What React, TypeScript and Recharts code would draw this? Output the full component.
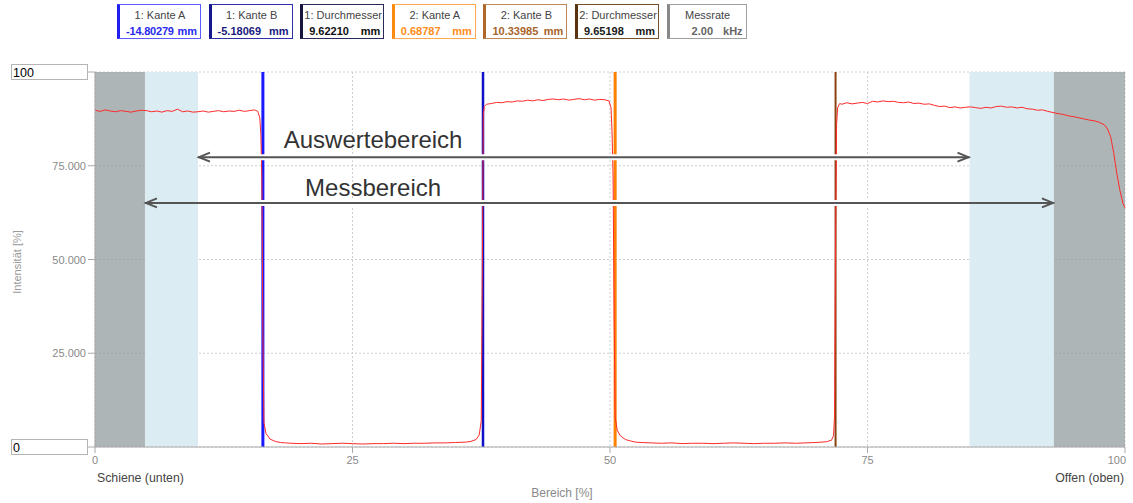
import React from 'react';
import {
  LineChart,
  Line,
  XAxis,
  YAxis,
  CartesianGrid,
  ReferenceArea,
  ReferenceLine,
  ReferenceDot,
} from 'recharts';

// Messpunkte (Bereich in %, Intensität in %)
const bereich = [
  0, 0.5, 1, 1.5, 2, 2.5, 3, 3.5, 4, 4.5, 5, 5.5, 6, 6.5, 7, 7.5, 8, 8.5, 9, 9.5, 10, 10.5, 11, 11.5, 12, 12.5, 13, 13.5, 14, 14.5, 15, 15.5,
  15.8, 16, 16.1, 16.2, 16.3, 16.4, 16.6, 17, 17.5, 18, 18.5,
  19, 20, 21, 22, 23, 24, 25, 26, 27, 28, 29, 30, 31, 32, 33, 34, 35, 36,
  36.5, 37, 37.3, 37.5, 37.6, 37.7, 37.8,
  38, 38.5, 39, 39.5, 40, 40.5, 41, 41.5, 42, 42.5, 43, 43.5, 44, 44.5, 45, 45.5, 46, 46.5, 47, 47.5, 48, 48.5, 49, 49.5, 49.9,
  50.1, 50.2, 50.3, 50.4, 50.5, 50.7, 51, 51.5, 52, 52.5, 53, 54,
  55, 56, 57, 58, 59, 60, 61, 62, 63, 64, 65, 66, 67, 68, 69, 70, 71,
  71.5, 71.7, 71.8, 71.9, 72, 72.1, 72.3,
  72.5, 73, 73.5, 74, 74.5, 75, 75.5, 76, 76.5, 77, 77.5, 78, 78.5, 79, 79.5, 80, 80.5, 81, 81.5, 82, 82.5, 83, 83.5, 84, 84.5,
  85, 85.5, 86, 86.5, 87, 87.5, 88, 88.5, 89, 89.5, 90, 90.5, 91, 91.5, 92, 92.5, 93, 93.5, 94, 94.5, 95, 95.5, 96, 96.5, 97, 97.5,
  98, 98.3, 98.6, 98.9, 99.2, 99.5, 99.8, 100,
];

const intensitaet = [
  89.8, 89.5, 89.9, 89.6, 89.4, 89.7, 89.5, 89.3, 89.6, 89.8, 89.7, 89.4, 89.6, 89.3, 89.7, 89.5, 90.1, 89.4, 89.6, 89.3, 89.4, 89.6, 89.3, 89.5, 89.7, 89.4, 89.6, 89.5, 89.8, 89.5, 89.7, 89.9,
  89.5, 87.8, 83.5, 72, 30, 6.5, 3.6, 2.1, 1.5, 1.2, 1.1,
  1.0, 0.9, 1.0, 0.8, 0.9, 1.0, 0.9, 0.8, 0.9, 0.9, 1.0, 0.9, 1.0, 1.0, 1.1, 1.1, 1.2, 1.3,
  1.5, 2.0, 3.2, 7.0, 45, 88.5, 90.8,
  91.4, 91.6, 91.9, 91.8, 92.1, 92.0, 92.3, 92.2, 92.5, 92.3, 92.6, 92.4, 92.7, 92.8, 92.6, 92.8, 92.5, 92.7, 92.9, 92.6, 92.8, 92.5, 92.7, 92.6, 92.3,
  90.5, 84, 72, 35, 8, 4.5, 3.0, 2.0, 1.6, 1.3, 1.2, 1.1,
  1.0, 1.1, 0.9, 1.0, 1.0, 0.9, 1.0, 1.1, 1.0, 0.9, 1.0, 1.0, 1.1, 1.0, 1.1, 1.2, 1.4,
  1.8, 3.0, 8.0, 55, 86, 90.5, 91.6,
  91.4, 91.8, 91.5, 91.7, 91.9, 91.6, 92.2, 92.0, 92.3, 92.1, 92.2, 91.9, 91.8, 92.0, 91.6, 91.7, 91.4, 91.5, 91.1, 90.8, 90.9, 90.5, 90.7, 90.4, 90.6,
  90.7, 90.5, 90.3, 90.6, 90.4, 90.8, 90.9, 90.6, 90.7, 90.4, 90.6, 90.2, 90.1, 89.8, 89.9, 89.5, 89.2, 88.9, 88.7, 88.3, 88.1, 87.8, 87.5, 87.2, 87.0, 86.6,
  85.9, 84.8, 82.8, 78.5, 73.0, 68.5, 65.0, 63.8,
];

const xTicks = [0, 25, 50, 75, 100];
const yTicks = [0, 25, 50, 75, 100];

// Kanten-Marker (Bereich %)
const kanten = [16.3, 37.67, 50.5, 71.9];
const kantenFarben = ['#1a1aff', '#1010c8', '#ff8000', '#8a4210'];
const kantenBreite = [3, 2.5, 3, 2];

// Bereiche
const messbereich = [4.85, 93.1];
const auswertebereich = [10, 84.9];
const auswerteY = 77.3;
const messY = 65.1;

// Anzeige-Felder oben
const feldTitel = ['1: Kante A', '1: Kante B', '1: Durchmesser', '2: Kante A', '2: Kante B', '2: Durchmesser', 'Messrate'];
const feldWerte = ['-14.80279', '-5.18069', '9.62210', '0.68787', '10.33985', '9.65198', '2.00'];
const feldEinheit = ['mm', 'mm', 'mm', 'mm', 'mm', 'mm', 'kHz'];
const feldRahmen = ['#5a5aff', '#3030a8', '#2a2a5a', '#ffa850', '#c08858', '#74502c', '#a0a0a0'];
const feldBalken = ['#2020ee', '#16168e', '#14143e', '#ff8a10', '#b0682a', '#5a3210', '#888888'];
const feldText = ['#2a2aee', '#1a1a80', '#111111', '#ff8c1a', '#a8642c', '#1a1a1a', '#666666'];

const data = bereich.map((b, i) => ({ bereich: b, intensitaet: intensitaet[i] }));

const FONT = '"Liberation Sans", Arial, sans-serif';

const YTick = (props: any) => {
  const { x, y, payload } = props;
  const v = payload.value;
  if (v === 100 || v === 0) {
    return (
      <g>
        <rect x={11.5} y={y - 7.5} width={76} height={15} fill="#fff" stroke="#b4b4b4" />
        <text x={13} y={y + 4.5} fontSize={12.5} fill="#000" fontFamily={FONT}>
          {v}
        </text>
      </g>
    );
  }
  return (
    <text x={x} y={y + 4} textAnchor="end" fontSize={11} fill="#8a8a8a" fontFamily={FONT}>
      {v.toFixed(3)}
    </text>
  );
};

const XTick = (props: any) => {
  const { x, y, payload } = props;
  const v = payload.value;
  return (
    <text
      x={v === 100 ? x + 1 : x}
      y={y + 9}
      textAnchor={v === 100 ? 'end' : 'middle'}
      fontSize={11}
      fill="#8a8a8a"
      fontFamily={FONT}
    >
      {v}
    </text>
  );
};

const Pfeil = (props: any) => {
  const { x1, y1, x2, y2 } = props;
  const c = '#555';
  return (
    <g>
      <line x1={x1} y1={y1} x2={x2} y2={y2} stroke={c} strokeWidth={2} />
      <polyline points={`${x1 + 12},${y1 - 4.5} ${x1 + 1},${y1} ${x1 + 12},${y1 + 4.5}`} fill="none" stroke={c} strokeWidth={2} />
      <polyline points={`${x2 - 12},${y2 - 4.5} ${x2 - 1},${y2} ${x2 - 12},${y2 + 4.5}`} fill="none" stroke={c} strokeWidth={2} />
    </g>
  );
};

export default function App() {
  return (
    <div style={{ position: 'absolute', left: 0, top: 0, width: 1133, height: 503, background: '#fff', fontFamily: FONT }}>
      {feldTitel.map((t, i) => (
        <div
          key={t}
          style={{
            position: 'absolute',
            left: 117 + i * 91.6,
            top: 4,
            width: i === 6 ? 80 : 84,
            height: 35,
            boxSizing: 'border-box',
            border: `1px solid ${feldRahmen[i]}`,
            borderLeft: `3px solid ${feldBalken[i]}`,
            background: '#fff',
          }}
        >
          <div style={{ position: 'absolute', left: 0, right: 0, top: 3, textAlign: 'center', fontSize: 11, color: '#444', lineHeight: '14px', whiteSpace: 'nowrap' }}>
            {t}
          </div>
          <div
            style={{
              position: 'absolute',
              left: i === 6 ? 22 : 6,
              top: 19,
              fontSize: 11,
              fontWeight: 'bold',
              color: feldText[i],
              lineHeight: '14px',
              whiteSpace: 'nowrap',
              letterSpacing: i === 0 ? -0.2 : 0,
            }}
          >
            {feldWerte[i]}
          </div>
          <div style={{ position: 'absolute', right: 3, top: 19, fontSize: 11, fontWeight: 'bold', color: feldText[i], lineHeight: '14px' }}>
            {feldEinheit[i]}
          </div>
        </div>
      ))}

      <div style={{ position: 'absolute', left: 0, top: 0 }}>
        <LineChart width={1133} height={503} data={data} margin={{ top: 72, right: 8, left: 11, bottom: 26 }} style={{ fontFamily: FONT }}>
          <CartesianGrid stroke="#cfcfcf" strokeDasharray="2 2" />
          <ReferenceArea x1={messbereich[0]} x2={auswertebereich[0]} y1={0} y2={100} fill="#dcecf3" fillOpacity={1} stroke="none" />
          <ReferenceArea x1={auswertebereich[1]} x2={messbereich[1]} y1={0} y2={100} fill="#dcecf3" fillOpacity={1} stroke="none" />
          {kanten.map((k, i) => (
            <ReferenceLine key={k} x={k} stroke={kantenFarben[i]} strokeWidth={kantenBreite[i]} />
          ))}
          <XAxis
            dataKey="bereich"
            type="number"
            domain={[0, 100]}
            ticks={xTicks}
            height={30}
            tick={<XTick />}
            tickSize={6}
            tickMargin={2}
            stroke="#aaa"
            interval={0}
          />
          <YAxis
            domain={[0, 100]}
            ticks={yTicks}
            width={84}
            tick={<YTick />}
            tickSize={7}
            tickMargin={2}
            stroke="#aaa"
            interval={0}
          />
          <Line type="linear" dataKey="intensitaet" stroke="#ff2a2a" strokeWidth={1} dot={false} isAnimationActive={false} />
          <ReferenceArea x1={0} x2={messbereich[0]} y1={0} y2={100} fill="#8b9599" fillOpacity={0.7} stroke="none" />
          <ReferenceArea x1={messbereich[1]} x2={100} y1={0} y2={100} fill="#8b9599" fillOpacity={0.7} stroke="none" />
          <ReferenceLine segment={[{ x: auswertebereich[0], y: auswerteY }, { x: auswertebereich[1], y: auswerteY }]} stroke="#fff" strokeWidth={6} />
          <ReferenceLine segment={[{ x: auswertebereich[0], y: messY }, { x: auswertebereich[1], y: messY }]} stroke="#fff" strokeWidth={6} />
          <ReferenceLine segment={[{ x: auswertebereich[0], y: auswerteY }, { x: auswertebereich[1], y: auswerteY }]} shape={Pfeil} />
          <ReferenceLine segment={[{ x: messbereich[0], y: messY }, { x: messbereich[1], y: messY }]} shape={Pfeil} />
          <ReferenceDot x={27} y={82.1} r={0} fill="none" stroke="none" label={{ value: 'Auswertebereich', position: 'center', fill: '#333', fontSize: 24 }} />
          <ReferenceDot x={27} y={69.1} r={0} fill="none" stroke="none" label={{ value: 'Messbereich', position: 'center', fill: '#333', fontSize: 24 }} />
        </LineChart>
      </div>

      <div style={{ position: 'absolute', left: 17, top: 262, transform: 'translate(-50%, -50%) rotate(-90deg)', fontSize: 11, color: '#999', whiteSpace: 'nowrap' }}>
        Intensität [%]
      </div>
      <div style={{ position: 'absolute', left: 97, top: 471, fontSize: 12.3, color: '#444', whiteSpace: 'nowrap' }}>Schiene (unten)</div>
      <div style={{ position: 'absolute', right: 9, top: 471, fontSize: 12.3, color: '#444', whiteSpace: 'nowrap' }}>Offen (oben)</div>
      <div style={{ position: 'absolute', left: 562, top: 486, transform: 'translateX(-50%)', fontSize: 12, color: '#8a8a8a', whiteSpace: 'nowrap' }}>
        Bereich [%]
      </div>
    </div>
  );
}
